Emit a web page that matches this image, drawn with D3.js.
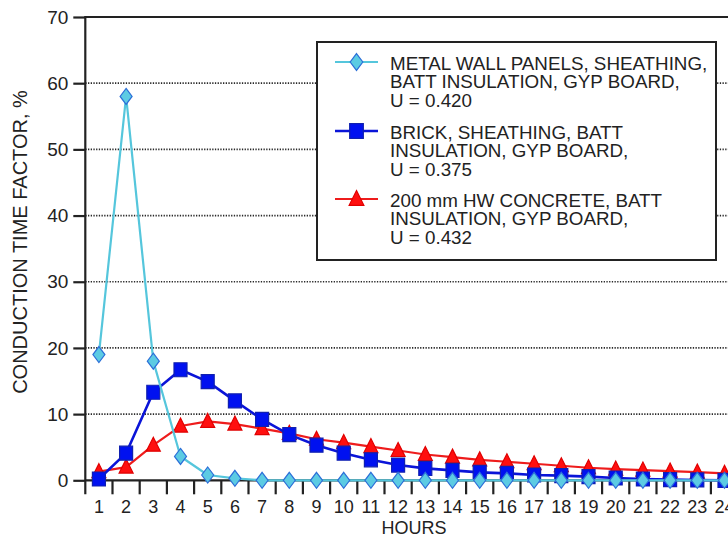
<!DOCTYPE html>
<html>
<head>
<meta charset="utf-8">
<script src="https://cdn.jsdelivr.net/npm/d3@7/dist/d3.min.js"></script>
<style>
  html, body { margin: 0; padding: 0; background: #fff; }
  svg { display: block; }
  text { font-family: "Liberation Sans", Arial, sans-serif; fill: #222; }
</style>
</head>
<body>
<svg id="chart" width="728" height="537"></svg>
<script>
// Hours after the heat pulse
const hours = [1, 2, 3, 4, 5, 6, 7, 8, 9, 10, 11, 12, 13, 14, 15, 16, 17, 18, 19, 20, 21, 22, 23, 24];

// Conduction time factors, % per hour
const metalPanel = [19, 58, 18, 3.6, 0.8, 0.3, 0, 0, 0, 0, 0, 0, 0, 0, 0, 0, 0, 0, 0, 0, 0, 0, 0, 0];
const brickWall = [0.2, 4.1, 13.3, 16.7, 14.9, 12.0, 9.2, 6.9, 5.3, 4.1, 3.1, 2.3, 1.8, 1.5, 1.2, 1.05, 0.8, 0.7, 0.55, 0.35, 0.2, 0.1, 0.05, 0];
const concreteWall = [1.3, 2.0, 5.3, 8.2, 8.9, 8.5, 7.8, 7.1, 6.2, 5.7, 5.1, 4.5, 3.9, 3.5, 3.1, 2.8, 2.5, 2.2, 1.9, 1.7, 1.55, 1.4, 1.25, 1.05];

// Legend wording, one array of lines per wall type
const metalLabel = ["METAL WALL PANELS, SHEATHING,", "BATT INSULATION, GYP BOARD,", "U = 0.420"];
const brickLabel = ["BRICK, SHEATHING, BATT", "INSULATION, GYP BOARD,", "U = 0.375"];
const concreteLabel = ["200 mm HW CONCRETE, BATT", "INSULATION, GYP BOARD,", "U = 0.432"];

const yTicks = [0, 10, 20, 30, 40, 50, 60, 70];
const xLabel = "HOURS";
const yLabel = "CONDUCTION TIME FACTOR, %";

const svg = d3.select("#chart");

const x = d3.scaleLinear().domain([0.5, 24.5]).range([85.3, 738.1]);
const y = d3.scaleLinear().domain([0, 70]).range([480.3, 17]);

// dotted horizontal grid
svg.append("g")
  .selectAll("line")
  .data(yTicks.filter(v => v > 0 && v < 70))
  .join("line")
  .attr("x1", x(0.5)).attr("x2", 728)
  .attr("y1", d => y(d)).attr("y2", d => y(d))
  .attr("stroke", "#2a2a2a").attr("stroke-width", 1.7)
  .attr("stroke-dasharray", "1.3,1.4");

// frame: top border
svg.append("line")
  .attr("x1", x(0.5)).attr("x2", 728)
  .attr("y1", y(70)).attr("y2", y(70))
  .attr("stroke", "#222").attr("stroke-width", 2);

// y axis
const yAxis = svg.append("g")
  .attr("transform", `translate(${x(0.5)},0)`)
  .call(d3.axisLeft(y).tickValues(yTicks).tickSize(12).tickPadding(5).tickFormat(d3.format("d")));
yAxis.select(".domain").remove();
yAxis.selectAll(".tick line").attr("stroke", "#222").attr("stroke-width", 2.2);
yAxis.selectAll(".tick text")
  .style("font-family", "'Liberation Sans', Arial, sans-serif")
  .style("font-size", "19px").attr("fill", "#222");

svg.append("line")
  .attr("x1", x(0.5)).attr("x2", x(0.5))
  .attr("y1", y(70) - 1).attr("y2", y(0) + 14)
  .attr("stroke", "#222").attr("stroke-width", 2.2);

// x axis: ticks on half hours, labels on whole hours
svg.append("line")
  .attr("x1", x(0.5)).attr("x2", 728)
  .attr("y1", y(0)).attr("y2", y(0))
  .attr("stroke", "#222").attr("stroke-width", 2.2);

const halfTicks = hours.map(h => h + 0.5);
svg.append("g")
  .selectAll("line")
  .data(halfTicks)
  .join("line")
  .attr("x1", d => x(d)).attr("x2", d => x(d))
  .attr("y1", y(0)).attr("y2", y(0) + 14)
  .attr("stroke", "#222").attr("stroke-width", 2.2);

svg.append("g")
  .selectAll("text")
  .data(hours)
  .join("text")
  .attr("x", d => x(d)).attr("y", 512.5)
  .attr("text-anchor", "middle")
  .style("font-family", "'Liberation Sans Narrow', 'Liberation Sans', Arial, sans-serif")
  .style("font-size", "18px")
  .text(d => d);

// axis titles
svg.append("text")
  .attr("x", 414).attr("y", 534)
  .attr("text-anchor", "middle")
  .style("font-size", "18px")
  .text(xLabel);

svg.append("text")
  .attr("transform", "translate(27,242) rotate(-90)")
  .attr("text-anchor", "middle")
  .style("font-size", "20px")
  .text(yLabel);

// series definitions
const series = [
  { name: "concrete", values: concreteWall, line: "#ee1c1c", fill: "#ff0f0f", stroke: "#e00000", shape: "triangle", width: 2.2, label: concreteLabel },
  { name: "brick", values: brickWall, line: "#0a14d8", fill: "#0011f0", stroke: "#1020b0", shape: "square", width: 2.6, label: brickLabel },
  { name: "metal", values: metalPanel, line: "#55c6dc", fill: "#5ccbe3", stroke: "#2c6fd8", shape: "diamond", width: 2.2, label: metalLabel }
];

function markerPath(shape, s) {
  if (shape === "diamond") return `M0,${-8 * s}L${6 * s},0L0,${8 * s}L${-6 * s},0Z`;
  if (shape === "square") return `M${-6.5 * s},${-7 * s}H${6.5 * s}V${7 * s}H${-6.5 * s}Z`;
  return `M0,${-8 * s}L${7 * s},${6 * s}H${-7 * s}Z`;
}

const line = d3.line().x((d, i) => x(hours[i])).y(d => y(d));

series.forEach(sr => {
  const g = svg.append("g").attr("class", "series-" + sr.name);
  g.append("path")
    .datum(sr.values)
    .attr("d", line)
    .attr("fill", "none")
    .attr("stroke", sr.line)
    .attr("stroke-width", sr.width)
    .attr("stroke-linejoin", "round");
  g.selectAll("path.mk")
    .data(sr.values)
    .join("path")
    .attr("class", "mk")
    .attr("transform", (d, i) => `translate(${x(hours[i])},${y(d)})`)
    .attr("d", markerPath(sr.shape, 1))
    .attr("fill", sr.fill)
    .attr("stroke", sr.stroke)
    .attr("stroke-width", 1.2);
});

// legend box
const legend = svg.append("g");
legend.append("rect")
  .attr("x", 317).attr("y", 42)
  .attr("width", 399).attr("height", 218)
  .attr("fill", "#fff")
  .attr("stroke", "#222").attr("stroke-width", 2);

const legendRows = [
  { sr: series[2], cy: 62 },
  { sr: series[1], cy: 131 },
  { sr: series[0], cy: 199 }
];

legendRows.forEach(row => {
  const g = legend.append("g");
  g.append("line")
    .attr("x1", 335).attr("x2", 378)
    .attr("y1", row.cy).attr("y2", row.cy)
    .attr("stroke", row.sr.line).attr("stroke-width", row.sr.width);
  g.append("path")
    .attr("transform", `translate(356.5,${row.cy})`)
    .attr("d", markerPath(row.sr.shape, 1.05))
    .attr("fill", row.sr.fill)
    .attr("stroke", row.sr.stroke)
    .attr("stroke-width", 1.2);
  g.selectAll("text")
    .data(row.sr.label)
    .join("text")
    .attr("x", 390)
    .attr("y", (d, i) => row.cy + 7.5 + i * 18.5)
    .style("font-size", "18.8px")
    .text(d => d);
});
</script>
</body>
</html>
